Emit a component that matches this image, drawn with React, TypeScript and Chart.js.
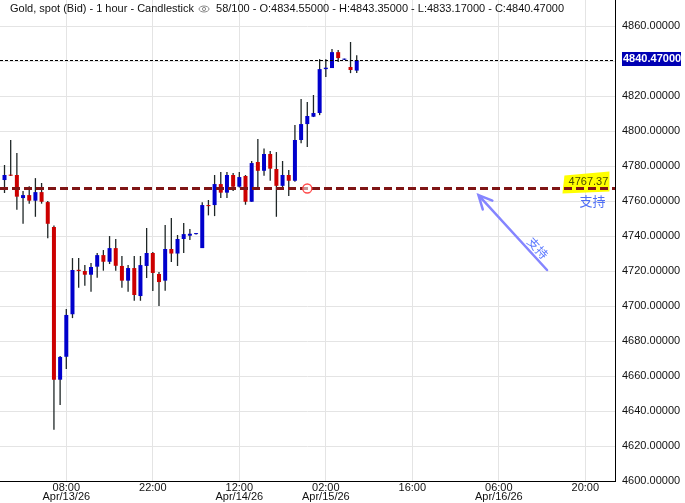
import React, { useEffect, useRef } from "react";
import { Chart, registerables } from "chart.js";

Chart.register(...registerables);

// hours relative to Apr/13/26 00:00
const hours = [
  -2, -1, 0, 1, 2, 3, 4, 5, 6, 7, 8, 9, 10, 11, 12, 13, 14, 15, 16, 17, 18, 19,
  20, 21, 22, 23, 24, 25, 26, 27, 28, 29, 30, 31, 32, 33, 34, 35, 36, 37, 38,
  39, 40, 41, 42, 43, 44, 45, 46, 47, 48, 49, 50, 51, 52, 53, 54, 55,
];
const opens = [
  4772.0, 4775.0, 4774.9, 4761.7, 4763.4, 4760.2, 4765.1, 4759.4, 4745.1, 4657.9,
  4671.0, 4695.3, 4720.7, 4720.0, 4717.9, 4722.5, 4729.1, 4725.3, 4733.1, 4722.9,
  4714.5, 4721.7, 4705.7, 4722.9, 4730.3, 4718.3, 4714.5, 4732.6, 4730.0, 4738.3,
  4740.2, 4741.1, 4733.1, 4757.7, 4757.7, 4769.7, 4764.8, 4774.9, 4768.2, 4774.3,
  4759.6, 4782.3, 4777.3, 4786.9, 4778.3, 4768.7, 4774.9, 4771.6, 4794.9, 4804.0,
  4808.2, 4810.3, 4835.4, 4836.0, 4845.1, 4840.8, 4836.6, 4834.55,
];
const highs = [
  4780.6, 4794.9, 4787.4, 4765.7, 4768.4, 4773.1, 4770.3, 4760.0, 4746.0, 4671.4,
  4698.3, 4727.4, 4727.4, 4723.4, 4724.6, 4730.3, 4732.0, 4740.0, 4738.3, 4728.6,
  4723.4, 4728.6, 4728.6, 4744.6, 4730.9, 4719.4, 4746.3, 4750.3, 4740.6, 4747.4,
  4744.0, 4741.7, 4759.3, 4760.6, 4774.9, 4776.6, 4776.6, 4776.0, 4776.6, 4774.9,
  4782.9, 4795.4, 4790.0, 4788.6, 4788.0, 4782.9, 4777.7, 4803.4, 4818.3, 4816.6,
  4820.6, 4841.1, 4841.1, 4846.9, 4846.3, 4841.4, 4850.9, 4843.35,
];
const lows = [
  4764.6, 4774.3, 4755.0, 4747.0, 4758.5, 4751.0, 4758.5, 4738.7, 4629.3, 4643.4,
  4664.0, 4693.1, 4710.5, 4711.6, 4708.2, 4716.2, 4720.2, 4724.0, 4720.2, 4710.5,
  4708.2, 4703.0, 4703.0, 4716.0, 4708.6, 4700.0, 4708.8, 4725.1, 4722.9, 4730.3,
  4737.7, 4740.9, 4733.1, 4751.8, 4751.4, 4761.7, 4761.7, 4765.7, 4767.8, 4757.9,
  4759.6, 4767.8, 4774.5, 4771.6, 4751.0, 4766.9, 4762.9, 4771.0, 4793.1, 4790.9,
  4808.0, 4809.1, 4830.9, 4836.0, 4839.4, 4840.6, 4833.1, 4833.17,
];
const closes = [
  4774.9, 4774.5, 4762.5, 4763.4, 4760.2, 4765.1, 4759.6, 4747.0, 4657.9, 4670.9,
  4694.9, 4720.6, 4720.0, 4717.9, 4722.3, 4729.1, 4725.3, 4733.1, 4723.0, 4714.5,
  4721.7, 4706.3, 4723.4, 4730.3, 4718.9, 4713.7, 4732.6, 4730.0, 4738.3, 4741.1,
  4741.3, 4741.5, 4757.7, 4757.1, 4769.7, 4764.8, 4774.9, 4768.2, 4773.7, 4759.6,
  4781.7, 4777.3, 4786.9, 4778.5, 4768.7, 4774.9, 4771.6, 4794.9, 4804.0, 4808.6,
  4810.3, 4835.4, 4836.2, 4845.1, 4841.7, 4841.2, 4834.9, 4840.47,
];

const xTickHours = [8, 22, 36, 50, 64, 78, 92];
const xTickTimes = ["08:00", "22:00", "12:00", "02:00", "16:00", "06:00", "20:00"];
const xTickDates = ["Apr/13/26", "", "Apr/14/26", "Apr/15/26", "", "Apr/16/26", ""];
const yTicks = [
  4600, 4620, 4640, 4660, 4680, 4700, 4720, 4740, 4760, 4780, 4800, 4820, 4840, 4860,
];

const titleLeft = "Gold, spot (Bid) - 1 hour - Candlestick";
const titleRight = "58/100 - O:4834.55000 - H:4843.35000 - L:4833.17000 - C:4840.47000";
const lastPrice = 4840.47;
const lastPriceLabel = "4840.47000";
const supportPrice = 4767.37;
const supportLabel = "4767.37";
const supportText = "支持";
const alertHour = 47;
const supportLabelHour = 92.5;
const arrowTail = { h: 85.8, p: 4720.6 };
const arrowHead = { h: 74.7, p: 4763.4 };

const X_MIN = -2.73;
const X_MAX = 96.8;
const Y_MIN = 4600;
const Y_MAX = 4874.9;

const UP = "#0000cc";
const DOWN = "#cc0000";
const FONT = '"Liberation Sans", Arial, sans-serif';

const overlay = {
  id: "overlay",
  afterDatasetsDraw(chart: any) {
    const { ctx, chartArea: a, scales } = chart;
    const x = scales.x;
    const y = scales.y;
    ctx.save();

    // support line with highlighted label
    const ys = Math.round(y.getPixelForValue(supportPrice)) + 0.5;
    const lx = x.getPixelForValue(supportLabelHour);
    ctx.fillStyle = "#ffff00";
    ctx.beginPath();
    ctx.moveTo(lx - 24, ys - 13);
    ctx.lineTo(lx + 21, ys - 17);
    ctx.lineTo(lx + 21, ys + 3);
    ctx.lineTo(lx - 26, ys + 5);
    ctx.closePath();
    ctx.fill();

    ctx.strokeStyle = "#7f1515";
    ctx.lineWidth = 3;
    ctx.setLineDash([8, 4]);
    ctx.beginPath();
    ctx.moveTo(a.left, ys);
    ctx.lineTo(a.right, ys);
    ctx.stroke();
    ctx.setLineDash([]);

    ctx.font = "11px " + FONT;
    ctx.fillStyle = "#4a4a00";
    ctx.textAlign = "center";
    ctx.textBaseline = "middle";
    ctx.fillText(supportLabel, lx, ys - 6.5);

    ctx.font = '13px "Noto Sans CJK SC", sans-serif';
    ctx.fillStyle = "#4f6ef5";
    ctx.fillText(supportText, lx + 4, ys + 12.5);

    // alert circle
    const cx = x.getPixelForValue(alertHour);
    ctx.beginPath();
    ctx.arc(cx, ys, 4.5, 0, Math.PI * 2);
    ctx.fillStyle = "rgba(255,255,255,0.55)";
    ctx.fill();
    ctx.strokeStyle = "#ff4a4a";
    ctx.lineWidth = 1.3;
    ctx.stroke();

    // arrow
    const tx = x.getPixelForValue(arrowTail.h);
    const ty = y.getPixelForValue(arrowTail.p);
    const hx = x.getPixelForValue(arrowHead.h);
    const hy = y.getPixelForValue(arrowHead.p);
    const ang = Math.atan2(hy - ty, hx - tx);
    ctx.strokeStyle = "#8585ff";
    ctx.lineWidth = 2.5;
    ctx.lineCap = "round";
    ctx.beginPath();
    ctx.moveTo(tx, ty);
    ctx.lineTo(hx, hy);
    const wing = 15;
    const spread = 0.45;
    ctx.moveTo(hx - wing * Math.cos(ang - spread), hy - wing * Math.sin(ang - spread));
    ctx.lineTo(hx, hy);
    ctx.lineTo(hx - wing * Math.cos(ang + spread), hy - wing * Math.sin(ang + spread));
    ctx.stroke();

    // rotated label along the arrow
    const mx = tx + (hx - tx) * 0.22;
    const my = ty + (hy - ty) * 0.22;
    const nx = -Math.sin(ang);
    const ny = Math.cos(ang);
    ctx.save();
    ctx.translate(mx + nx * 8, my + ny * 8);
    ctx.rotate(ang + Math.PI);
    ctx.font = '12px "Noto Sans CJK SC", sans-serif';
    ctx.fillStyle = "#5a78ff";
    ctx.textAlign = "center";
    ctx.textBaseline = "middle";
    ctx.fillText(supportText, 0, 0);
    ctx.restore();

    // last price dashed line
    const yp = Math.round(y.getPixelForValue(lastPrice)) + 0.5;
    ctx.strokeStyle = "#000";
    ctx.lineWidth = 1;
    ctx.lineCap = "butt";
    ctx.setLineDash([3, 2]);
    ctx.beginPath();
    ctx.moveTo(a.left, yp);
    ctx.lineTo(a.right, yp);
    ctx.stroke();
    ctx.setLineDash([]);

    // title
    ctx.font = "11px " + FONT;
    ctx.fillStyle = "#111";
    ctx.textAlign = "left";
    ctx.textBaseline = "middle";
    const tyy = 9;
    ctx.fillText(titleLeft, 10, tyy);
    const w1 = ctx.measureText(titleLeft).width;
    const ex = 10 + w1 + 10;
    ctx.strokeStyle = "#8a8a8a";
    ctx.lineWidth = 1;
    ctx.beginPath();
    ctx.ellipse(ex, tyy, 5, 3, 0, 0, Math.PI * 2);
    ctx.stroke();
    ctx.beginPath();
    ctx.arc(ex, tyy, 1.6, 0, Math.PI * 2);
    ctx.stroke();
    ctx.fillText(titleRight, ex + 12, tyy);

    ctx.restore();
  },
  afterDraw(chart: any) {
    const { ctx, chartArea: a, scales } = chart;
    const y = scales.y;
    const yp = y.getPixelForValue(lastPrice);
    ctx.save();
    ctx.fillStyle = "#0000b4";
    ctx.fillRect(a.right + 7, Math.round(yp) - 8, 59, 14);
    ctx.fillStyle = "#fff";
    ctx.font = "bold 11px " + FONT;
    ctx.textAlign = "left";
    ctx.textBaseline = "middle";
    ctx.fillText(lastPriceLabel, a.right + 8, Math.round(yp) - 1);
    ctx.restore();
  },
};

export default function App() {
  const ref = useRef<HTMLCanvasElement>(null);
  useEffect(() => {
    if (!ref.current) return;
    const bodyColors = opens.map((o, i) => (closes[i] >= o ? UP : DOWN));
    const chart = new Chart(ref.current, {
      type: "bar",
      data: {
        datasets: [
          {
            label: "body",
            data: hours.map((h, i) => ({ x: h, y: [opens[i], closes[i]] })) as any,
            backgroundColor: bodyColors,
            barThickness: 4,
            grouped: false,
            minBarLength: 1,
            inflateAmount: 0,
            borderWidth: 0,
            order: 0,
          },
          {
            label: "wick",
            data: hours.map((h, i) => ({ x: h, y: [lows[i], highs[i]] })) as any,
            backgroundColor: "#1e2626",
            barThickness: 1.3,
            grouped: false,
            inflateAmount: 0,
            borderWidth: 0,
            order: 1,
          },
        ],
      },
      options: {
        animation: false,
        responsive: false,
        devicePixelRatio: 1,
        layout: { padding: 0 },
        plugins: { legend: { display: false }, tooltip: { enabled: false } },
        scales: {
          x: {
            type: "linear",
            min: X_MIN,
            max: X_MAX,
            offset: false,
            afterBuildTicks: (s: any) => {
              s.ticks = xTickHours.map((v) => ({ value: v }));
            },
            afterFit: (s: any) => {
              s.height = 22;
              s.paddingLeft = 0;
              s.paddingRight = 0;
            },
            grid: { color: "#e4e4e4", drawTicks: false, offset: false },
            border: { color: "#000", width: 1 },
            ticks: {
              autoSkip: false,
              maxRotation: 0,
              padding: 2,
              color: "#111",
              font: { family: FONT, size: 11, lineHeight: 0.85 },
              callback: (v: any) => {
                const i = xTickHours.indexOf(Number(v));
                if (i < 0) return "";
                return xTickDates[i] ? [xTickTimes[i], xTickDates[i]] : xTickTimes[i];
              },
            },
          },
          y: {
            position: "right",
            min: Y_MIN,
            max: Y_MAX,
            beginAtZero: false,
            afterBuildTicks: (s: any) => {
              s.ticks = yTicks.map((v) => ({ value: v }));
            },
            afterFit: (s: any) => {
              s.width = 70;
              s.paddingTop = 0;
              s.paddingBottom = 0;
            },
            grid: { color: "#e4e4e4", drawTicks: false },
            border: { color: "#000", width: 1 },
            ticks: {
              padding: 7,
              color: "#111",
              font: { family: FONT, size: 11 },
              callback: (v: any) => Number(v).toFixed(5),
            },
          },
        },
      },
      plugins: [overlay],
    });
    return () => chart.destroy();
  }, []);
  return (
    <div style={{ position: "fixed", left: 0, top: 0, width: 685, height: 503, background: "#fff" }}>
      <canvas ref={ref} width={685} height={503} style={{ display: "block" }} />
    </div>
  );
}
